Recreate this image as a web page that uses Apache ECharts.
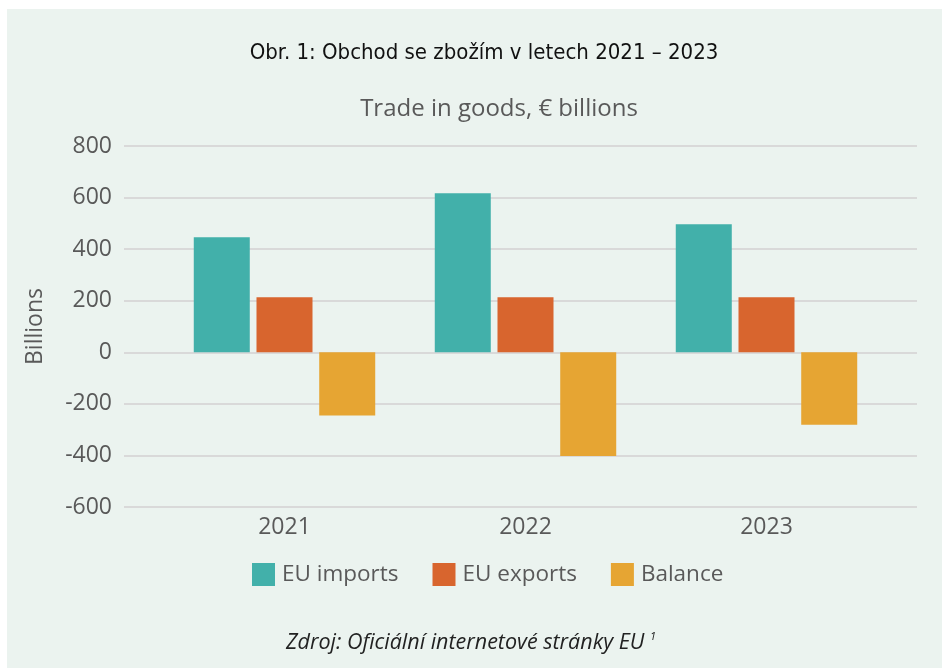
<!DOCTYPE html>
<html>
<head>
<meta charset="utf-8">
<title>Obchod se zbožím</title>
<script src="https://cdn.jsdelivr.net/npm/echarts@6/dist/echarts.min.js"></script>
<style>
  html, body { margin: 0; padding: 0; background: #ffffff; }
  #chart { width: 942px; height: 668px; }
</style>
</head>
<body>
<div id="chart"></div>
<script>
// data
const years = ['2021', '2022', '2023'];
const seriesNames = ['EU imports', 'EU exports', 'Balance'];
const imports = [446, 617, 497];
const exports = [213, 213, 213];
const balance = [-245, -402, -281];
const yTicks = [-600, -400, -200, 0, 200, 400, 600, 800];

const colors = ['#42b0aa', '#d8652e', '#e6a533'];
const labelFont = "'Open Sans', 'Noto Sans', sans-serif";
const condFont = "'Liberation Sans Narrow', 'DejaVu Sans Condensed', 'Open Sans', sans-serif";

const chart = echarts.init(document.getElementById('chart'));

const yMin = yTicks[0];
const yMax = yTicks[yTicks.length - 1];
const yStep = yTicks[1] - yTicks[0];

const option = {
  animation: false,
  color: colors,
  graphic: [{
    type: 'rect',
    z: -100,
    silent: true,
    shape: { x: 7, y: 9, width: 935, height: 659 },
    style: { fill: '#ebf3ef' }
  }],
  title: [
    {
      text: 'Obr. 1: Obchod se zbožím v letech 2021 – 2023',
      left: 479, top: 37, textAlign: 'center',
      textStyle: { fontFamily: condFont, fontSize: 22, fontWeight: 'normal', color: '#111111' }
    },
    {
      text: 'Trade in goods, € billions',
      left: 494, top: 92, textAlign: 'center',
      textStyle: { fontFamily: labelFont, fontSize: 24, fontWeight: 'normal', color: '#595959' }
    },
    {
      text: 'Zdroj: Oficiální internetové stránky EU {sup|1}',
      left: 466, top: 626, textAlign: 'center',
      textStyle: {
        fontFamily: labelFont, fontSize: 21.5, fontStyle: 'italic', fontWeight: 'normal', color: '#222222',
        rich: { sup: { fontSize: 11, fontStyle: 'italic', color: '#222222', verticalAlign: 'top', padding: [0, 0, 12, 0] } }
      }
    }
  ],
  legend: {
    data: seriesNames,
    left: 252, top: 563, padding: 0,
    itemWidth: 23, itemHeight: 23, itemGap: 34,
    icon: 'rect',
    textStyle: { fontFamily: labelFont, fontSize: 22.5, color: '#595959', padding: [0, 0, 0, 2] }
  },
  grid: [
    { left: 124, right: 25, top: 146, height: 361 },
    { left: 164, right: 55, top: 146, height: 361 }
  ],
  xAxis: [
    { type: 'category', gridIndex: 0, data: years, show: false },
    {
      type: 'category', gridIndex: 1, data: years,
      axisLine: { show: false, onZero: false },
      axisTick: { show: false },
      axisLabel: { margin: 9, fontFamily: labelFont, fontSize: 23, color: '#595959' }
    }
  ],
  yAxis: [
    {
      type: 'value', gridIndex: 0,
      min: yMin, max: yMax, interval: yStep,
      name: 'Billions', nameLocation: 'middle', nameRotate: 90, nameGap: 77,
      nameTextStyle: { fontFamily: labelFont, fontSize: 23, color: '#595959' },
      axisLine: { show: false }, axisTick: { show: false },
      axisLabel: { margin: 12, fontFamily: labelFont, fontSize: 23, color: '#595959' },
      splitLine: { lineStyle: { color: '#d9d9d9', width: 2 } }
    },
    {
      type: 'value', gridIndex: 1,
      min: yMin, max: yMax, interval: yStep,
      show: false, splitLine: { show: false }
    }
  ],
  series: [
    { name: seriesNames[0], type: 'bar', xAxisIndex: 1, yAxisIndex: 1, data: imports, barWidth: 56, barGap: '12%' },
    { name: seriesNames[1], type: 'bar', xAxisIndex: 1, yAxisIndex: 1, data: exports, barWidth: 56, barGap: '12%' },
    { name: seriesNames[2], type: 'bar', xAxisIndex: 1, yAxisIndex: 1, data: balance, barWidth: 56, barGap: '12%' }
  ]
};

chart.setOption(option);
window.addEventListener('resize', function () { chart && chart.resize(); });
</script>
</body>
</html>
